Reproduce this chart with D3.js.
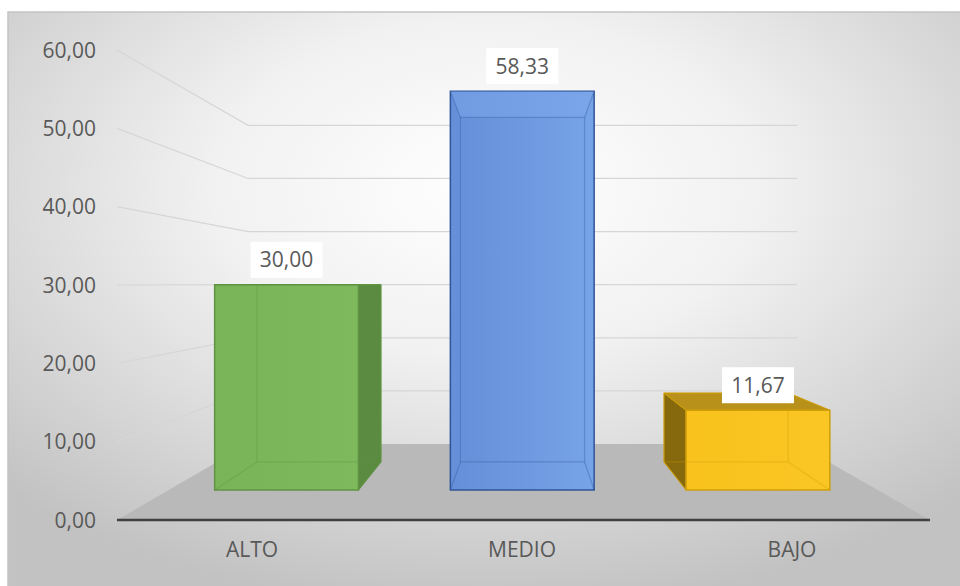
<!DOCTYPE html>
<html>
<head>
<meta charset="utf-8">
<script src="https://d3js.org/d3.v7.min.js"></script>
<style>
body { margin: 0; background: #ffffff; }
text { font-family: "Open Sans", sans-serif; fill: #595959; }
.tick-label { font-size: 21px; }
.cat-label { font-size: 21px; }
.data-label { font-size: 21px; }
</style>
</head>
<body>
<div id="chart"></div>
<script>

// data
var categories = ["ALTO", "MEDIO", "BAJO"];
var values = [30.00, 58.33, 11.67];
var yTicks = [0, 10, 20, 30, 40, 50, 60];

// bar colours: front (left/right shade), side, top, edge
var palette = [
  {left: "#79b458", right: "#7eb95d", side: "#5b8b40", top: "#6a9f4b", edge: "#5f9442"},
  {left: "#658fd8", right: "#77a3e8", side: "#5a84cc", top: "#7ea8ec", edge: "#2f5597"},
  {left: "#f9c21d", right: "#fac623", side: "#85690c", top: "#b8911a", edge: "#cf9e0a"}
];

var W = 960, H = 586;

var svg = d3.select("#chart")
  .append("svg")
  .attr("width", W)
  .attr("height", H);

var defs = svg.append("defs");
var bg = defs.append("radialGradient")
  .attr("id", "bg")
  .attr("cx", "50%").attr("cy", "30%").attr("r", "72%");
bg.append("stop").attr("offset", "0%").attr("stop-color", "#ffffff");
bg.append("stop").attr("offset", "40%").attr("stop-color", "#f1f1f1");
bg.append("stop").attr("offset", "100%").attr("stop-color", "#c2c2c2");

palette.forEach(function(c, i) {
  var lg = defs.append("linearGradient")
    .attr("id", "front" + i)
    .attr("x1", "0%").attr("x2", "100%").attr("y1", "0%").attr("y2", "0%");
  lg.append("stop").attr("offset", "0%").attr("stop-color", c.left);
  lg.append("stop").attr("offset", "100%").attr("stop-color", c.right);
});

svg.append("rect")
  .attr("x", 8).attr("y", 12)
  .attr("width", W).attr("height", H)
  .attr("fill", "url(#bg)")
  .attr("stroke", "#c4c4c4")
  .attr("stroke-width", 1.5);

// front plane scales
var x = d3.scaleBand()
  .domain(categories)
  .range([117, 927])
  .paddingInner(0.39)
  .paddingOuter(0.195);

var y = d3.scaleLinear()
  .domain([0, 60])
  .range([520, 50]);

// perspective: vanishing point and depth factors
var vp = {x: 524, y: 284};
var sWall = 0.678, sFront = 0.873, sBack = 0.754;

function proj(px, py, s) {
  return [vp.x + (px - vp.x) * s, vp.y + (py - vp.y) * s];
}

var x0 = x.range()[0], x1 = x.range()[1];
var line = d3.line();

// floor
svg.append("path")
  .attr("d", line([[x0, y(0)], proj(x0, y(0), sWall), proj(x1, y(0), sWall), [x1 + 3, y(0)]]) + "Z")
  .attr("fill", "#b9b9b9");

// gridlines: side wall + back wall
var grid = svg.append("g").attr("class", "grid");
yTicks.filter(function(v) { return v > 0; }).forEach(function(v) {
  var a = [x0, y(v)], b = proj(x0, y(v), sWall), c = proj(x1, y(v), sWall);
  grid.append("path")
    .attr("d", line([a, b, c]))
    .attr("fill", "none")
    .attr("stroke", "#d6d6d6")
    .attr("stroke-width", 1.2);
});

// axis line
svg.append("line")
  .attr("x1", x0).attr("x2", x1 + 3)
  .attr("y1", y(0)).attr("y2", y(0))
  .attr("stroke", "#404040")
  .attr("stroke-width", 2.5);

// y tick labels
svg.append("g").selectAll("text")
  .data(yTicks)
  .enter().append("text")
  .attr("class", "tick-label")
  .attr("x", 96)
  .attr("y", function(d) { return y(d); })
  .attr("dy", "0.36em")
  .attr("text-anchor", "end")
  .text(function(d) { return d3.format(".2f")(d).replace(".", ","); });

// category labels
svg.append("g").selectAll("text")
  .data(categories)
  .enter().append("text")
  .attr("class", "cat-label")
  .attr("x", function(d) { return x(d) + x.bandwidth() / 2; })
  .attr("y", 557)
  .attr("text-anchor", "middle")
  .text(function(d) { return d; });

// bars as translucent boxes
var bars = svg.append("g");
values.forEach(function(v, i) {
  var c = palette[i];
  var bx0 = x(categories[i]), bx1 = bx0 + x.bandwidth();
  var yt = y(v), yb = y(0);
  var FLT = proj(bx0, yt, sFront), FRT = proj(bx1, yt, sFront),
      FLB = proj(bx0, yb, sFront), FRB = proj(bx1, yb, sFront),
      BLT = proj(bx0, yt, sBack), BRT = proj(bx1, yt, sBack),
      BLB = proj(bx0, yb, sBack), BRB = proj(bx1, yb, sBack);

  var g = bars.append("g");

  // visible side faces
  if (bx1 < vp.x) {
    g.append("path").attr("d", line([FRT, BRT, BRB, FRB]) + "Z")
      .attr("fill", c.side).attr("stroke", c.edge).attr("stroke-width", 1);
  }
  if (bx0 > vp.x) {
    g.append("path").attr("d", line([FLT, BLT, BLB, FLB]) + "Z")
      .attr("fill", c.side).attr("stroke", c.edge).attr("stroke-width", 1);
  }
  if (yt > vp.y) {
    g.append("path").attr("d", line([FLT, FRT, BRT, BLT]) + "Z")
      .attr("fill", c.top).attr("stroke", c.edge).attr("stroke-width", 1);
  }

  // front face
  g.append("path").attr("d", line([FLT, FRT, FRB, FLB]) + "Z")
    .attr("fill", "url(#front" + i + ")")
    .attr("stroke", c.edge)
    .attr("stroke-width", 1.5);

  // underside of the top seen through the front (bars above eye level)
  if (yt < vp.y) {
    g.append("path").attr("d", line([FLT, FRT, BRT, BLT]) + "Z")
      .attr("fill", c.top).attr("fill-opacity", 0.5);
  }

  // hidden edges seen through the front
  var hidden = g.append("g")
    .attr("fill", "none")
    .attr("stroke", c.edge)
    .attr("stroke-opacity", 0.35)
    .attr("stroke-width", 1.2);
  hidden.append("path").attr("d", line([BLT, BRT, BRB, BLB]) + "Z");
  hidden.append("path").attr("d", line([FLT, BLT]));
  hidden.append("path").attr("d", line([FRT, BRT]));
  hidden.append("path").attr("d", line([FLB, BLB]));
  hidden.append("path").attr("d", line([FRB, BRB]));

  // data label
  var cx = (FLT[0] + FRT[0]) / 2, cy = FLT[1] - 25;
  bars.append("rect")
    .attr("x", cx - 36).attr("y", cy - 18)
    .attr("width", 72).attr("height", 36)
    .attr("fill", "#ffffff");
  bars.append("text")
    .attr("class", "data-label")
    .attr("x", cx).attr("y", cy)
    .attr("dy", "0.36em")
    .attr("text-anchor", "middle")
    .text(d3.format(".2f")(v).replace(".", ","));
});

</script>
</body>
</html>
